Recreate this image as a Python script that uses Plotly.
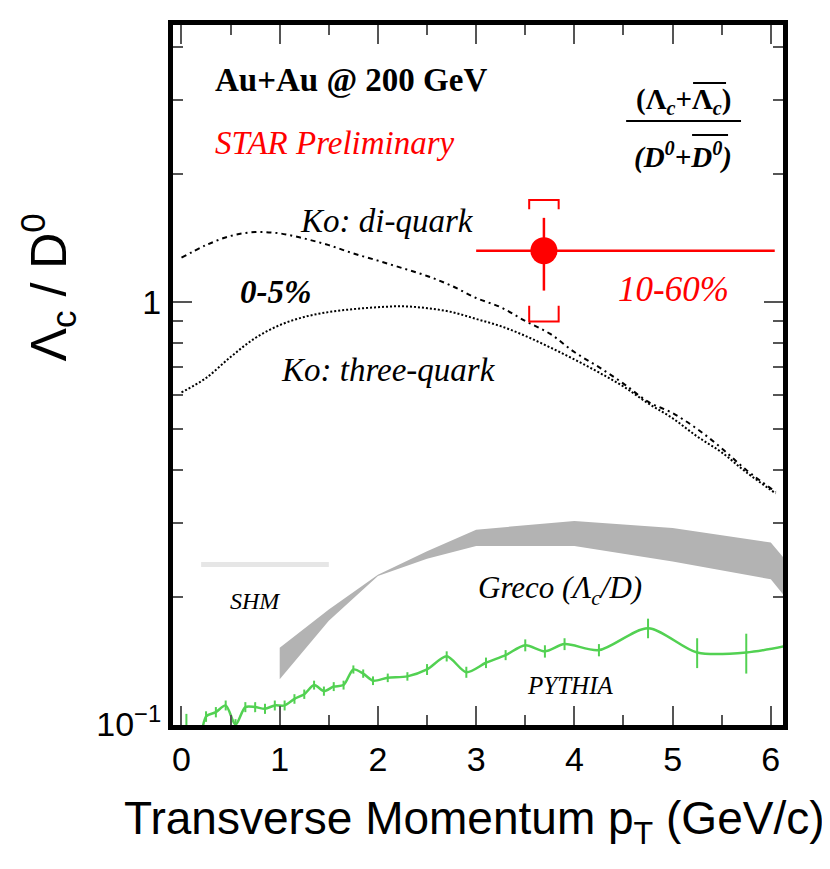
import plotly.graph_objects as go

# Ko model curves (coalescence), 0-5%
ko_x = [0.0, 0.25, 0.5, 0.75, 1.0, 1.25, 1.5, 1.75, 2.0, 2.25, 2.5, 2.75, 3.0,
        3.25, 3.5, 3.75, 4.0, 4.25, 4.5, 4.75, 5.0, 5.25, 5.5, 5.75, 6.05]
ko_diquark = [1.27, 1.36, 1.43, 1.46, 1.45, 1.41, 1.36, 1.30, 1.25, 1.20, 1.15, 1.09, 1.02,
              0.97, 0.90, 0.84, 0.76, 0.70, 0.64, 0.58, 0.545, 0.50, 0.45, 0.40, 0.355]
ko_threequark = [0.61, 0.66, 0.74, 0.82, 0.88, 0.92, 0.945, 0.96, 0.97, 0.975, 0.965, 0.945, 0.91,
                 0.875, 0.83, 0.78, 0.73, 0.68, 0.63, 0.575, 0.53, 0.48, 0.44, 0.395, 0.352]

# Greco band
greco_x = [1.0, 1.5, 2.0, 2.5, 3.0, 4.0, 5.0, 6.0, 6.15]
greco_hi = [0.152, 0.187, 0.226, 0.257, 0.289, 0.303, 0.2915, 0.2695, 0.245]
greco_lo = [0.128, 0.176, 0.2246, 0.2466, 0.2644, 0.2644, 0.243, 0.2205, 0.20]

# SHM
shm_x = [0.2, 1.5]
shm_y = [0.239, 0.239]

# PYTHIA
py_x = [0.05, 0.15, 0.25, 0.35, 0.45, 0.55, 0.65, 0.75, 0.85, 0.95, 1.05, 1.15, 1.25, 1.35,
        1.45, 1.55, 1.65, 1.75, 1.85, 1.95, 2.1, 2.3, 2.5, 2.7, 2.9, 3.1, 3.3, 3.5, 3.7, 3.9,
        4.25, 4.75, 5.25, 5.75, 6.25]
py_y = [0.09, 0.086, 0.1045, 0.107, 0.111, 0.100, 0.110, 0.110, 0.109, 0.111, 0.111, 0.115, 0.118, 0.124,
        0.120, 0.123, 0.124, 0.135, 0.132, 0.127, 0.129, 0.130, 0.135, 0.145, 0.133, 0.140, 0.146, 0.154,
        0.149, 0.155, 0.150, 0.169, 0.148, 0.148, 0.155]
py_err = [0.016, 0.003, 0.003, 0.003, 0.003, 0.003, 0.003, 0.003, 0.003, 0.003, 0.003, 0.003, 0.003, 0.003,
          0.003, 0.003, 0.003, 0.003, 0.003, 0.003, 0.003, 0.003, 0.004, 0.004, 0.004, 0.004, 0.004, 0.005,
          0.005, 0.005, 0.005, 0.009, 0.012, 0.016, 0.0]

# STAR data, 10-60%
star_x = [3.69]
star_y = [1.32]
star_stat = [0.258]
star_xlo = [0.69]
star_xhi = [2.35]
star_sys_hi = [1.74]
star_sys_lo = [0.897]

# plot area in screen pixels (page body adds an 8px offset)
OFF = 8
L, R, T, B = 172.5, 783, 25, 725.5
W, H = R - L, B - T


def px(x):
    return (x - L) / W


def py_(y):
    return (B - y) / H


fig = go.Figure()

fig.add_trace(go.Scatter(
    x=greco_x + greco_x[::-1], y=greco_hi + greco_lo[::-1],
    fill='toself', fillcolor='#b3b3b3', line=dict(width=0), mode='lines'))

fig.add_trace(go.Scatter(x=shm_x, y=shm_y, mode='lines',
                         line=dict(color='#e6e6e6', width=5)))

fig.add_trace(go.Scatter(x=ko_x, y=ko_diquark, mode='lines', line_shape='spline',
                         line=dict(color='black', width=2, dash='5px,4px,2px,4px')))
fig.add_trace(go.Scatter(x=ko_x, y=ko_threequark, mode='lines', line_shape='spline',
                         line=dict(color='black', width=2, dash='2px,2px')))

fig.add_trace(go.Scatter(
    x=py_x, y=py_y, mode='lines', line_shape='spline',
    line=dict(color='#52d152', width=2.5, smoothing=0.8),
    error_y=dict(type='data', array=py_err, color='#52d152', thickness=2, width=0)))

# systematic brackets
w = 0.15
for xc, hi, lo in zip(star_x, star_sys_hi, star_sys_lo):
    fig.add_trace(go.Scatter(x=[xc - w, xc - w, xc + w, xc + w], y=[hi * 0.95, hi, hi, hi * 0.95],
                             mode='lines', line=dict(color='red', width=2)))
    fig.add_trace(go.Scatter(x=[xc - w, xc - w, xc + w, xc + w], y=[lo * 1.09, lo, lo, lo * 1.09],
                             mode='lines', line=dict(color='red', width=2)))

fig.add_trace(go.Scatter(
    x=star_x, y=star_y, mode='markers',
    marker=dict(color='red', size=27, symbol='circle'),
    error_y=dict(type='data', array=star_stat, color='red', thickness=2.5, width=0),
    error_x=dict(type='data', array=star_xhi, arrayminus=star_xlo, color='red', thickness=2.5, width=0)))

tickfont = dict(family='Liberation Sans', size=34, color='black')
fig.update_xaxes(range=[(L - 181) / 98.3, (R - 181) / 98.3], showgrid=False, zeroline=False,
                 showline=True, linewidth=5, linecolor='black', mirror='allticks',
                 ticks='inside', ticklen=19, tickwidth=1.5, tickcolor='#555',
                 tickvals=[0, 1, 2, 3, 4, 5, 6], tickfont=tickfont,
                 minor=dict(tickvals=[0.5, 1.5, 2.5, 3.5, 4.5, 5.5], ticklen=10, tickwidth=1.5,
                            tickcolor='#555', ticks='inside'))
fig.update_yaxes(type='log', range=[-1.001, (302 - T) / 423.5], showgrid=False, zeroline=False,
                 showline=True, linewidth=5, linecolor='black', mirror='allticks',
                 ticks='inside', ticklen=19, tickwidth=1.5, tickcolor='#555',
                 tickvals=[0.1, 1], ticktext=['10<sup>\u22121</sup>', '1'], tickfont=tickfont,
                 minor=dict(tickvals=[0.2, 0.3, 0.4, 0.5, 0.6, 0.7, 0.8, 0.9, 2, 3, 4],
                            ticklen=10, tickwidth=1.5, tickcolor='#555', ticks='inside'))

serif = 'Liberation Serif'
ann = []


def text(x, y, s, size, color='black', anchor='left'):
    ann.append(dict(x=px(x), y=py_(y), xref='paper', yref='paper', text=s, showarrow=False,
                    xanchor=anchor, yanchor='middle',
                    font=dict(family=serif, size=size, color=color)))


text(213, 80, '<b>Au+Au @ 200 GeV</b>', 33)
text(213, 143, '<i>STAR Preliminary</i>', 33, 'red')
text(683, 101, '<b>(\u039b<sub><i>c</i></sub>+\u039b<sub><i>c</i></sub>)</b>', 29, anchor='center')
text(683, 156, '<b><i>(D<sup>0</sup>+D<sup>0</sup>)</i></b>', 29, anchor='center')
text(298, 221, '<i>Ko: di-quark</i>', 33)
text(238, 292, '<b><i>0-5%</i></b>', 33)
text(279, 370, '<i>Ko: three-quark</i>', 33)
text(616, 290, '<i>10-60%</i>', 35, 'red')
text(228, 601, '<i>SHM</i>', 24)
text(476, 590, '<i>Greco (\u039b<sub>c</sub>/D)</i>', 31)
text(525, 686, '<i>PYTHIA</i>', 25)

ann.append(dict(x=px(474), y=py_(822), xref='paper', yref='paper', showarrow=False,
                text='Transverse Momentum p<sub>T</sub> (GeV/c)', xanchor='center', yanchor='middle',
                font=dict(family='Liberation Sans', size=46, color='black')))
ann.append(dict(x=px(48), y=py_(288), xref='paper', yref='paper', showarrow=False, textangle=-90,
                text='\u039b<sub>c</sub> / D<sup>0</sup>', xanchor='center', yanchor='middle',
                font=dict(family='Liberation Sans', size=50, color='black')))

shapes = []
for x0, x1, y in [(626, 741, 121), (693, 726, 83), (692, 728, 135)]:
    shapes.append(dict(type='line', xref='paper', yref='paper', x0=px(x0), x1=px(x1),
                       y0=py_(y), y1=py_(y), line=dict(color='black', width=2)))

fig.update_layout(width=830, height=869,
                  margin=dict(l=L - OFF, r=830 - R + OFF, t=T - OFF, b=869 - B + OFF),
                  paper_bgcolor='white', plot_bgcolor='white', showlegend=False,
                  annotations=ann, shapes=shapes)

fig.write_html("out.html")
